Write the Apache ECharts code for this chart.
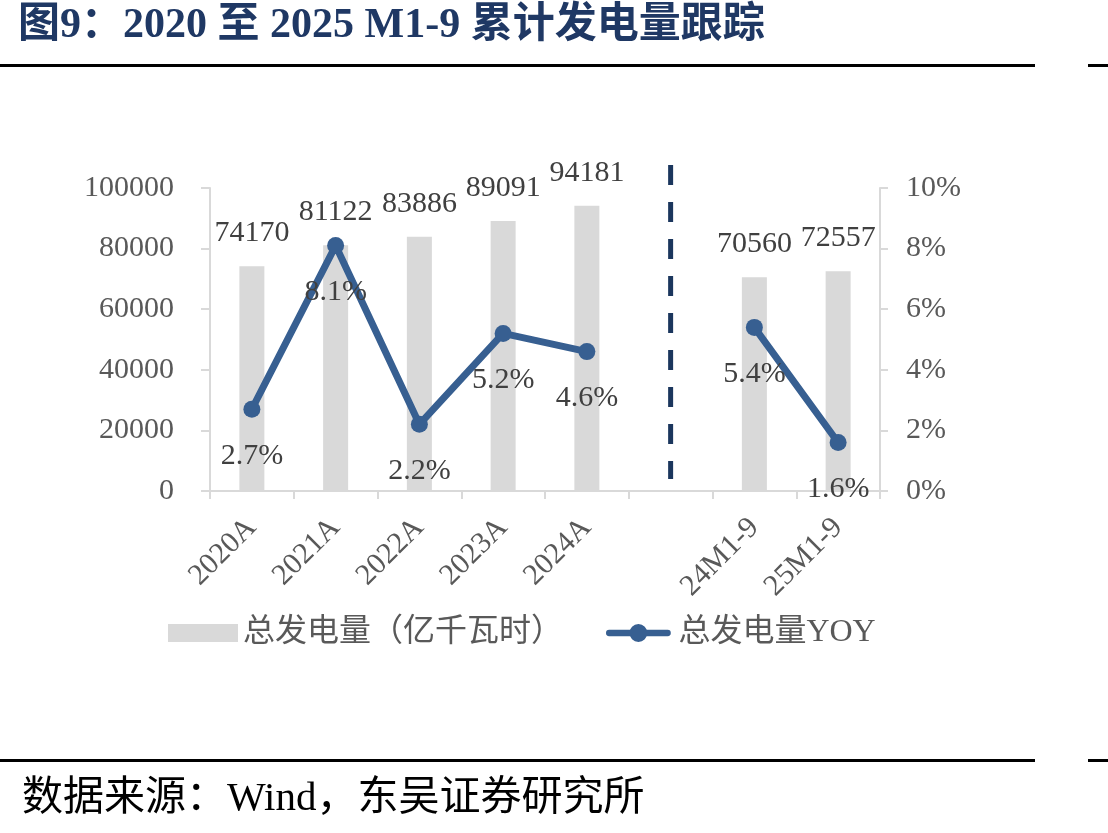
<!DOCTYPE html>
<html>
<head>
<meta charset="utf-8">
<style>
  html, body { margin: 0; padding: 0; background: #fff; }
  #main { width: 1108px; height: 833px; }
</style>
<script src="https://cdn.jsdelivr.net/npm/echarts@6/dist/echarts.min.js"></script>
</head>
<body>
<div id="main"></div>
<script>
// 类目（第 6 个为空，用来放分隔虚线）
const categories = ['2020A', '2021A', '2022A', '2023A', '2024A', '', '24M1-9', '25M1-9'];
// 总发电量（亿千瓦时）
const powerValues = [74170, 81122, 83886, 89091, 94181, null, 70560, 72557];
// 总发电量 YOY（%）
const yoyValues = [2.7, 8.1, 2.2, 5.2, 4.6, null, 5.4, 1.6];
// 分隔虚线：所在类目与上下端（左轴数值）
const dividerIndex = 5;
const dividerRange = [107500, 4000];

const serif = '"Liberation Serif", "Times New Roman", "Noto Sans CJK SC", serif';
const axisGray = '#d9d9d9';
const lineBlue = '#375f91';
// 图例里的折线图标：粗线 + 圆点
const lineIcon = 'path://M3.5,6.5H68.5A3.5,3.5 0 0 1 68.5,13.5H3.5A3.5,3.5 0 0 1 3.5,6.5Z'
  + 'M36,0A10,10 0 1 1 36,20A10,10 0 1 1 36,0Z';

const chart = echarts.init(document.getElementById('main'));

const option = {
  backgroundColor: '#fff',
  animation: false,
  title: [
    {
      text: '图9：2020 至 2025 M1-9 累计发电量跟踪',
      left: 18,
      top: 5,
      padding: 0,
      textStyle: { fontFamily: serif, fontSize: 42, fontWeight: 'bold', color: '#1f3864' }
    },
    {
      text: '数据来源：Wind，东吴证券研究所',
      left: 22,
      top: 779,
      padding: 0,
      textStyle: { fontFamily: serif, fontSize: 41, fontWeight: 'normal', color: '#000' }
    }
  ],
  graphic: [
    { type: 'rect', shape: { x: 0, y: 64, width: 1035, height: 3 }, style: { fill: '#000' } },
    { type: 'rect', shape: { x: 1088, y: 64, width: 20, height: 3 }, style: { fill: '#000' } },
    { type: 'rect', shape: { x: 0, y: 759, width: 1035, height: 3 }, style: { fill: '#000' } },
    { type: 'rect', shape: { x: 1088, y: 759, width: 20, height: 3 }, style: { fill: '#000' } }
  ],
  legend: {
    left: 168,
    top: 617,
    padding: 0,
    itemWidth: 70,
    itemHeight: 18,
    itemGap: 43,
    textStyle: { fontFamily: serif, fontSize: 32, color: '#595959' },
    data: [
      { name: '总发电量（亿千瓦时）', icon: 'rect' },
      { name: '总发电量YOY', icon: lineIcon, itemStyle: { color: lineBlue } }
    ]
  },
  grid: [
    { left: 210, right: 228, top: 188, bottom: 342 },
    { left: 210, right: 228, top: 165, bottom: 354 }
  ],
  xAxis: [
    {
      type: 'category',
      data: categories,
      axisLine: { lineStyle: { color: axisGray, width: 2 } },
      axisTick: { show: true, length: 8, lineStyle: { color: axisGray, width: 2 } },
      axisLabel: {
        interval: 0,
        rotate: 45,
        margin: 32,
        fontFamily: serif,
        fontSize: 30,
        color: '#595959'
      }
    },
    { type: 'category', gridIndex: 1, data: categories, show: false }
  ],
  yAxis: [
    {
      type: 'value',
      min: 0,
      max: 100000,
      interval: 20000,
      splitLine: { show: false },
      axisLine: { show: true, lineStyle: { color: axisGray, width: 2 } },
      axisTick: { show: true, length: 9, lineStyle: { color: axisGray, width: 2 } },
      axisLabel: {
        margin: 36,
        fontFamily: serif,
        fontSize: 30,
        color: '#595959',
        formatter: v => String(v)
      }
    },
    {
      type: 'value',
      min: 0,
      max: 10,
      interval: 2,
      splitLine: { show: false },
      axisLine: { show: true, lineStyle: { color: axisGray, width: 2 } },
      axisTick: { show: true, length: 8, lineStyle: { color: axisGray, width: 2 } },
      axisLabel: {
        margin: 26,
        fontFamily: serif,
        fontSize: 30,
        color: '#595959',
        formatter: '{value}%'
      }
    },
    {
      type: 'value',
      gridIndex: 1,
      min: dividerRange[1],
      max: dividerRange[0],
      show: false
    }
  ],
  series: [
    {
      name: '总发电量（亿千瓦时）',
      type: 'bar',
      yAxisIndex: 0,
      data: powerValues,
      barWidth: 25,
      itemStyle: { color: '#d9d9d9' },
      label: {
        show: true,
        position: 'top',
        distance: 18,
        fontFamily: serif,
        fontSize: 30,
        color: '#404040'
      }
    },
    {
      name: '总发电量YOY',
      type: 'line',
      yAxisIndex: 1,
      data: yoyValues,
      connectNulls: false,
      symbol: 'circle',
      symbolSize: 17,
      lineStyle: { color: lineBlue, width: 7 },
      itemStyle: { color: lineBlue },
      label: {
        show: true,
        position: 'bottom',
        distance: 23,
        fontFamily: serif,
        fontSize: 30,
        color: '#404040',
        formatter: p => p.value.toFixed(1) + '%'
      },
      z: 5
    },
    {
      // 分隔虚线
      name: 'divider',
      type: 'line',
      xAxisIndex: 1,
      yAxisIndex: 2,
      silent: true,
      symbol: 'none',
      data: [[dividerIndex, dividerRange[0]], [dividerIndex, dividerRange[1]]],
      lineStyle: { color: '#1b365d', width: 5, type: [20, 17] },
      z: 1
    }
  ]
};

chart.setOption(option);
</script>
</body>
</html>
